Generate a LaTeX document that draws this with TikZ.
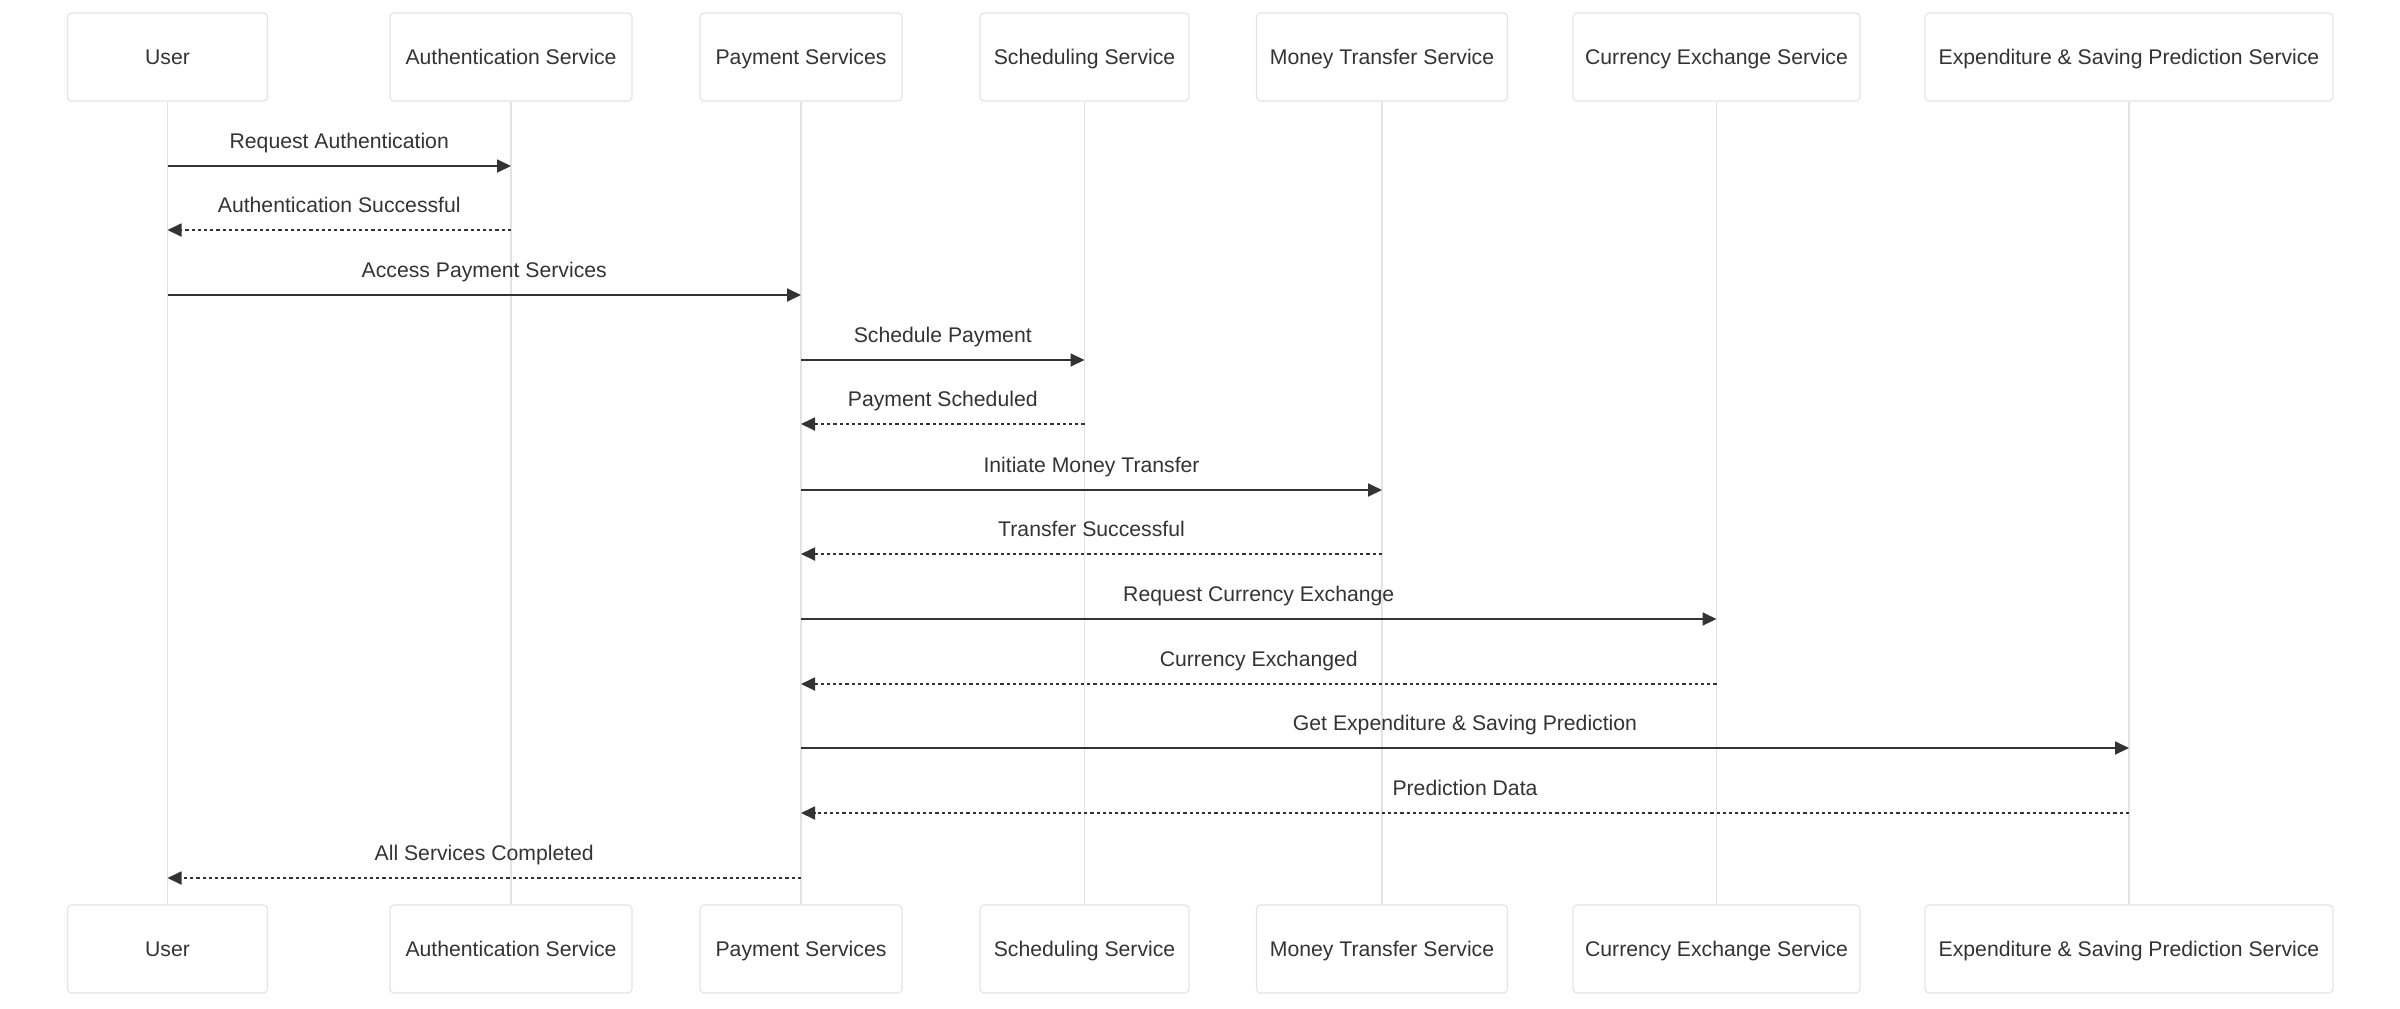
\documentclass[tikz,border=0pt]{standalone}
\usepackage{fontspec}
\setmainfont{Liberation Sans}
\usetikzlibrary{arrows.meta}
\definecolor{boxline}{HTML}{E4E4E4}
\definecolor{lifecol}{HTML}{E3E3E3}
\definecolor{msgcol}{HTML}{333333}
\tikzset{
  actor/.style={draw=boxline, line width=0.6pt, fill=white, rounded corners=2pt,
    minimum height=44pt, inner sep=0pt, text=msgcol, text height=9.8pt, text depth=2.2pt,
    font=\fontsize{10.6}{13}\selectfont},
  lifeline/.style={draw=lifecol, line width=0.8pt},
  msg/.style={draw=msgcol, line width=0.9pt, -{Triangle[length=7pt,width=6.5pt]}},
  reply/.style={msg, dash pattern=on 1.6pt off 1.5pt},
  msglabel/.style={text=msgcol, font=\fontsize{10.6}{13}\selectfont, inner sep=0pt,
    text height=7.8pt, text depth=2.2pt}
}
\begin{document}
\begin{tikzpicture}[x=0.5pt,y=-0.5pt]
\useasboundingbox (0,0) rectangle (2400,1008);
% participants, top and bottom, with their lifelines
\foreach \n/\x/\w/\t in {usr/167.5/200/User, auth/511/242/Authentication Service,
    pay/801/202/Payment Services, sched/1084.5/209/Scheduling Service,
    money/1382/251/Money Transfer Service, curr/1716.5/287/Currency Exchange Service,
    pred/2129/408/Expenditure \& Saving Prediction Service}{
  \node[actor, minimum width=\w*0.5pt] (\n-top) at (\x,57) {\t};
  \node[actor, minimum width=\w*0.5pt] (\n-bot) at (\x,949) {\t};
  \draw[lifeline] (\n-top.south) -- (\n-bot.north);
}
% messages
\foreach \y/\f/\g/\s/\t in {166/usr/auth/msg/Request Authentication,
    230/auth/usr/reply/Authentication Successful,
    295/usr/pay/msg/Access Payment Services,
    360/pay/sched/msg/Schedule Payment,
    424/sched/pay/reply/Payment Scheduled,
    490/pay/money/msg/Initiate Money Transfer,
    554/money/pay/reply/Transfer Successful,
    619/pay/curr/msg/Request Currency Exchange,
    684/curr/pay/reply/Currency Exchanged,
    748/pay/pred/msg/Get Expenditure \& Saving Prediction,
    813/pred/pay/reply/Prediction Data,
    878/pay/usr/reply/All Services Completed}{
  \draw[\s] (\f-top |- 0,\y) -- (\g-top |- 0,\y)
    node[msglabel, midway, yshift=11.8pt] {\t};
}
\end{tikzpicture}
\end{document}
